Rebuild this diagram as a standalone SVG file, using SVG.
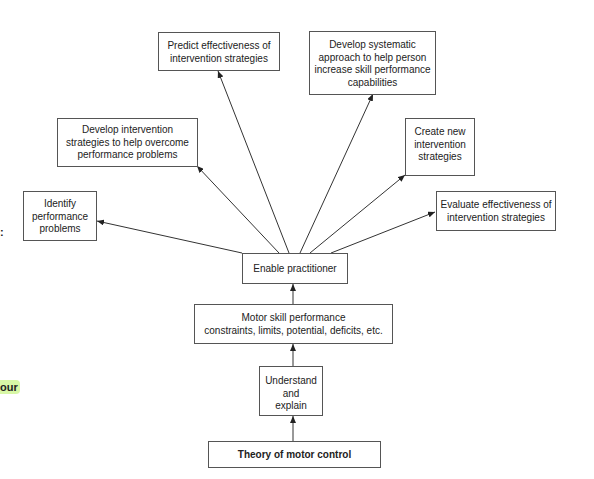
<svg xmlns="http://www.w3.org/2000/svg" width="594" height="479" viewBox="0 0 594 479">
<style>
.box{fill:#fff;stroke:#555;stroke-width:1}
.t{font-family:"Liberation Sans",Arial,sans-serif;font-size:10px;fill:#222;text-anchor:middle}
.b{font-weight:bold}
.c line{stroke:#333;stroke-width:1;marker-end:url(#ah)}
</style>
<defs>
<marker id="ah" markerUnits="userSpaceOnUse" markerWidth="8" markerHeight="6" refX="7" refY="3" orient="auto">
<path d="M0,0 L7,3 L0,6 z" fill="#222"/>
</marker>
</defs>
<rect width="594" height="479" fill="#fff"/>
<g id="fragments">
<rect x="-6" y="380" width="26" height="14" rx="4" fill="#d8f7a6"/>
<text x="0" y="391" font-family="Liberation Sans,Arial,sans-serif" font-size="11" font-weight="bold" fill="#222">our</text>
<text x="0" y="236" font-family="Liberation Sans,Arial,sans-serif" font-size="11" font-weight="bold" fill="#222">:</text>
</g>
<g class="c" id="connectors">
<line x1="293" y1="441" x2="293" y2="416"/>
<line x1="293" y1="366" x2="293" y2="344"/>
<line x1="293" y1="304" x2="293" y2="284"/>
<line x1="242" y1="253" x2="97" y2="221"/>
<line x1="279" y1="253" x2="197" y2="166"/>
<line x1="289" y1="253" x2="218" y2="71"/>
<line x1="300" y1="253" x2="373" y2="94"/>
<line x1="310" y1="253" x2="405" y2="175"/>
<line x1="331" y1="253" x2="435" y2="212"/>
</g>
<g id="predict"><rect class="box" x="158.5" y="32.5" width="121" height="38"/>
<text class="t" x="219" y="49">Predict effectiveness of</text><text class="t" x="219" y="62">intervention strategies</text></g>
<g id="systematic"><rect class="box" x="309.5" y="31.5" width="126" height="63"/>
<text class="t" x="372.5" y="48">Develop systematic</text><text class="t" x="372.5" y="60.5">approach to help person</text><text class="t" x="372.5" y="73">increase skill performance</text><text class="t" x="372.5" y="85.5">capabilities</text></g>
<g id="devint"><rect class="box" x="57.5" y="118.5" width="140" height="48"/>
<text class="t" x="127.5" y="133">Develop intervention</text><text class="t" x="127.5" y="145.5">strategies to help overcome</text><text class="t" x="127.5" y="158">performance problems</text></g>
<g id="create"><rect class="box" x="405.5" y="118.5" width="69" height="57"/>
<text class="t" x="440" y="135">Create new</text><text class="t" x="440" y="147.5">intervention</text><text class="t" x="440" y="160">strategies</text></g>
<g id="identify"><rect class="box" x="23.5" y="191.5" width="73" height="49"/>
<text class="t" x="60" y="207">Identify</text><text class="t" x="60" y="219.5">performance</text><text class="t" x="60" y="232">problems</text></g>
<g id="evaluate"><rect class="box" x="436.5" y="191.5" width="119" height="39"/>
<text class="t" x="496" y="208">Evaluate effectiveness of</text><text class="t" x="496" y="220.5">intervention strategies</text></g>
<g id="enable"><rect class="box" x="242.5" y="253.5" width="105" height="30"/>
<text class="t" x="295" y="272">Enable practitioner</text></g>
<g id="motor"><rect class="box" x="194.5" y="304.5" width="198" height="39"/>
<text class="t" x="293.5" y="321">Motor skill performance</text><text class="t" x="293.5" y="333.5">constraints, limits, potential, deficits, etc.</text></g>
<g id="understand"><rect class="box" x="259.5" y="366.5" width="63" height="49"/>
<text class="t" x="291" y="384">Understand</text><text class="t" x="291" y="396.5">and</text><text class="t" x="291" y="409">explain</text></g>
<g id="theory"><rect class="box" x="208.5" y="441.5" width="172" height="26"/>
<text class="t b" x="294.5" y="458">Theory of motor control</text></g>
</svg>
